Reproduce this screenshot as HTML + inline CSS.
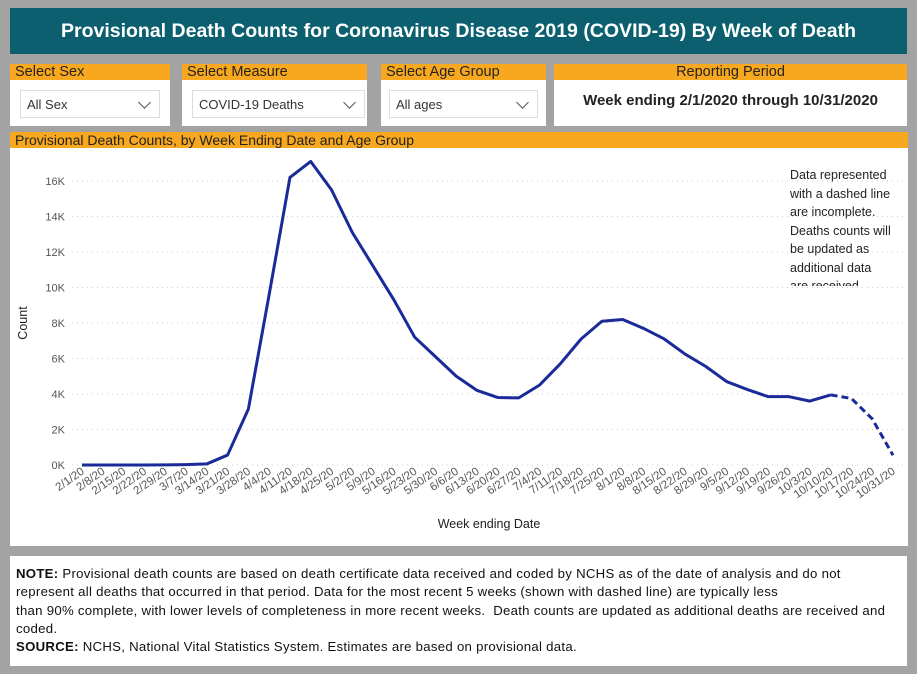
<!DOCTYPE html>
<html><head><meta charset="utf-8">
<style>
body{margin:0;width:917px;height:674px;background:#a3a3a3;font-family:"Liberation Sans",sans-serif;position:relative;overflow:hidden}
.abs{position:absolute}
.hdr{left:10px;top:8px;width:897px;height:46px;background:#0b5f6f;color:#fff;font-weight:bold;font-size:19.5px;text-align:center;line-height:46px}
.box{background:#fff;top:64px;height:62px}
.lab{position:absolute;left:0;top:0;right:0;height:16px;background:#f8a81e;color:#222;font-size:14.5px;line-height:16px;padding-left:5px}
.sel{position:absolute;top:26px;height:28px;border:1px solid #ddd;font-size:13px;line-height:28px;padding-left:6px;color:#333;box-sizing:border-box}
.chev{position:absolute;right:10px;top:7px;width:8px;height:8px;border-right:1.3px solid #555;border-bottom:1.3px solid #555;transform:rotate(45deg)}
.note{left:10px;top:556px;width:897px;height:110px;background:#fff;font-size:13.2px;letter-spacing:0.28px;line-height:18.3px;color:#111;box-sizing:border-box;padding:9px 6px;white-space:nowrap}
</style></head><body>
<div class="abs hdr">Provisional Death Counts for Coronavirus Disease 2019 (COVID-19) By Week of Death</div>

<div class="abs box" style="left:10px;width:160px">
 <div class="lab">Select Sex</div>
 <div class="sel" style="left:10px;width:140px">All Sex<span class="chev"></span></div>
</div>
<div class="abs box" style="left:182px;width:185px">
 <div class="lab">Select Measure</div>
 <div class="sel" style="left:10px;width:173px">COVID-19 Deaths<span class="chev"></span></div>
</div>
<div class="abs box" style="left:381px;width:165px">
 <div class="lab">Select Age Group</div>
 <div class="sel" style="left:8px;width:149px">All ages<span class="chev"></span></div>
</div>
<div class="abs box" style="left:554px;width:353px">
 <div class="lab" style="text-align:center;padding:0">Reporting Period</div>
 <div class="abs" style="left:0;right:0;top:28px;text-align:center;font-size:15px;font-weight:bold;color:#222">Week ending 2/1/2020 through 10/31/2020</div>
</div>

<div class="abs" style="left:10px;top:132px;width:898px;height:414px;background:#fff">
 <div class="lab" style="font-size:14px">Provisional Death Counts, by Week Ending Date and Age Group</div>
</div>
<svg class="abs" style="left:0;top:0" width="917" height="674" id="chart"></svg>
<div class="abs" style="left:790px;top:166px;font-size:12.5px;line-height:18.5px;color:#222;height:120px;overflow:hidden">Data represented<br>with a dashed line<br>are incomplete.<br>Deaths counts will<br>be updated as<br>additional data<br>are received.</div>

<div class="abs note"><b>NOTE:</b> Provisional death counts are based on death certificate data received and coded by NCHS as of the date of analysis and do not<br>represent all deaths that occurred in that period. Data for the most recent 5 weeks (shown with dashed line) are typically less<br>than 90% complete, with lower levels of completeness in more recent weeks.&nbsp; Death counts are updated as additional deaths are received and<br>coded.<br><b>SOURCE:</b> NCHS, National Vital Statistics System. Estimates are based on provisional data.</div>

<script>
const categories=["2/1/20","2/8/20","2/15/20","2/22/20","2/29/20","3/7/20","3/14/20","3/21/20","3/28/20","4/4/20","4/11/20","4/18/20","4/25/20","5/2/20","5/9/20","5/16/20","5/23/20","5/30/20","6/6/20","6/13/20","6/20/20","6/27/20","7/4/20","7/11/20","7/18/20","7/25/20","8/1/20","8/8/20","8/15/20","8/22/20","8/29/20","9/5/20","9/12/20","9/19/20","9/26/20","10/3/20","10/10/20","10/17/20","10/24/20","10/31/20"];
const deaths=[0,0,0,0,5,20,60,560,3150,9600,16200,17100,15500,13100,11200,9300,7200,6100,5000,4200,3800,3780,4500,5700,7100,8100,8200,7700,7100,6250,5550,4700,4250,3850,3850,3600,3950,3750,2600,550];
const yTicks=[0,2000,4000,6000,8000,10000,12000,14000,16000];
const yTickLabels=["0K","2K","4K","6K","8K","10K","12K","14K","16K"];
const incompleteFrom=36;

const svg=document.getElementById('chart');
const NS='http://www.w3.org/2000/svg';
const x0=82,x1=893,y0=465,yPer=17.75/1000;
const X=i=>x0+(x1-x0)*i/(categories.length-1);
const Y=v=>y0-v*yPer;
function mk(t,a){const e=document.createElementNS(NS,t);for(const k in a)e.setAttribute(k,a[k]);svg.appendChild(e);return e;}
yTicks.forEach((v,i)=>{
 const g=mk('line',{x1:72,x2:903,y1:Y(v),y2:Y(v),stroke:'#ccc','stroke-dasharray':'1 4'});
 
 
 const t=mk('text',{x:65,y:Y(v)+4,'text-anchor':'end','font-size':11,fill:'#555','font-family':'Liberation Sans'});
 t.textContent=yTickLabels[i];
 
 
});
categories.forEach((c,i)=>{
 const t=mk('text',{x:X(i)+3,y:473,'text-anchor':'end','font-size':11.5,fill:'#555','font-family':'Liberation Sans',transform:`rotate(-35 ${X(i)+3} 473)`});
 t.textContent=c;
 
 
});
const solid=deaths.slice(0,incompleteFrom+1).map((v,i)=>X(i)+','+Y(v)).join(' ');
const dashed=deaths.slice(incompleteFrom).map((v,i)=>X(i+incompleteFrom)+','+Y(v)).join(' ');
const l1=mk('polyline',{points:solid,fill:'none',stroke:'#1a2a99','stroke-width':3,'stroke-linejoin':'round'});


const l2=mk('polyline',{points:dashed,fill:'none',stroke:'#1a2a99','stroke-width':3,'stroke-dasharray':'7 4'});


const yt=mk('text',{x:27,y:323,'text-anchor':'middle','font-size':12.5,fill:'#222','font-family':'Liberation Sans',transform:'rotate(-90 27 323)'});
yt.textContent='Count';


const xt=mk('text',{x:489,y:528,'text-anchor':'middle','font-size':12.5,fill:'#222','font-family':'Liberation Sans'});
xt.textContent='Week ending Date';


</script>
</body></html>
